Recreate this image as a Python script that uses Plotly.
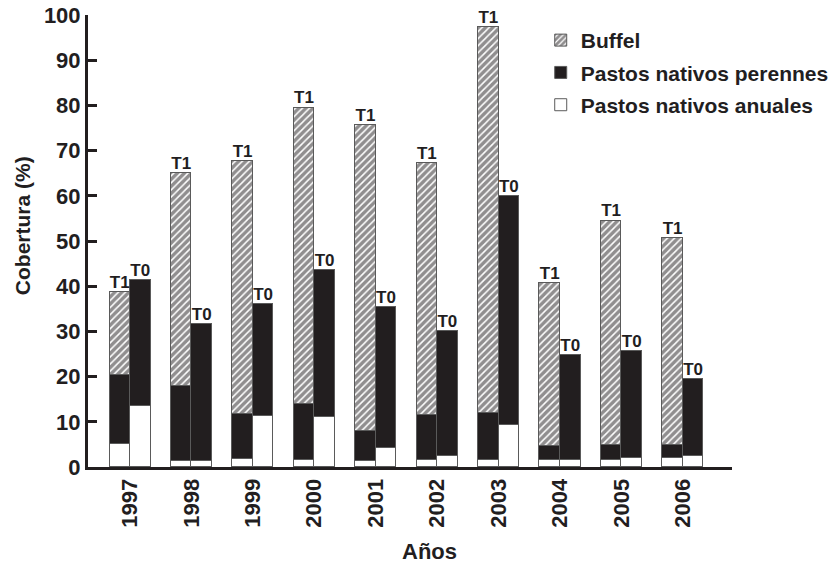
import plotly.graph_objects as go

years = ["1997", "1998", "1999", "2000", "2001", "2002", "2003", "2004", "2005", "2006"]

# T1 (with buffel)
t1_anuales = [5.2, 1.4, 1.7, 1.5, 1.3, 1.5, 1.6, 1.5, 1.5, 2.0]
t1_perennes = [15.1, 16.6, 10.1, 12.4, 6.6, 10.1, 10.4, 3.2, 3.3, 2.8]
t1_buffel = [18.4, 47.0, 55.9, 65.6, 67.7, 55.6, 85.4, 36.0, 49.7, 45.8]

# T0 (control)
t0_anuales = [13.5, 1.4, 11.3, 11.1, 4.1, 2.4, 9.2, 1.5, 2.1, 2.4]
t0_perennes = [27.9, 30.2, 24.7, 32.5, 31.2, 27.7, 50.7, 23.3, 23.6, 17.0]

idx = list(range(len(years)))
BW = 0.334
x_t1 = [i - BW / 2 for i in idx]
x_t0 = [i + BW / 2 for i in idx]

FONT = "Liberation Sans, Arial, Helvetica, sans-serif"
BLACK = "#221e1f"
EDGE = "#5a5a5a"

fig = go.Figure()

line = dict(color=EDGE, width=1)
hatch = dict(shape="/", fgcolor=BLACK, bgcolor="white", size=5, solidity=0.7)

fig.add_trace(go.Bar(x=x_t1, y=t1_anuales, width=BW, name="Pastos nativos anuales",
                     marker=dict(color="white", line=line), legendgroup="an", legendrank=3))
fig.add_trace(go.Bar(x=x_t1, y=t1_perennes, width=BW, name="Pastos nativos perennes",
                     marker=dict(color=BLACK, line=line), legendgroup="pe", legendrank=2))
fig.add_trace(go.Bar(x=x_t1, y=t1_buffel, width=BW, name="Buffel",
                     marker=dict(color="white", line=line, pattern=hatch),
                     legendgroup="bu", legendrank=1))
fig.add_trace(go.Bar(x=x_t0, y=t0_anuales, width=BW, name="Pastos nativos anuales",
                     marker=dict(color="white", line=line), legendgroup="an", showlegend=False))
fig.add_trace(go.Bar(x=x_t0, y=t0_perennes, width=BW, name="Pastos nativos perennes",
                     marker=dict(color=BLACK, line=line), legendgroup="pe", showlegend=False))

t1_tot = [a + b + c for a, b, c in zip(t1_anuales, t1_perennes, t1_buffel)]
t0_tot = [a + b for a, b in zip(t0_anuales, t0_perennes)]

lab_font = dict(family=FONT, size=17, color=BLACK, weight="bold")
fig.add_trace(go.Scatter(x=x_t1, y=t1_tot, mode="text", text=["T1"] * len(years),
                         textposition="top center", showlegend=False, cliponaxis=False,
                         textfont=lab_font))
fig.add_trace(go.Scatter(x=x_t0, y=t0_tot, mode="text", text=["T0"] * len(years),
                         textposition="top center", showlegend=False, cliponaxis=False,
                         textfont=lab_font))

fig.update_layout(
    width=840, height=565,
    margin=dict(l=88, r=108, t=15, b=98, autoexpand=False),
    barmode="stack",
    bargap=0,
    plot_bgcolor="white", paper_bgcolor="white",
    font=dict(family=FONT, color=BLACK, weight="bold"),
    showlegend=True,
    legend=dict(x=0.703, y=0.989, xanchor="left", yanchor="top",
                font=dict(family=FONT, size=21, color=BLACK, weight="bold"),
                traceorder="grouped", tracegroupgap=2, bgcolor="rgba(0,0,0,0)"),
    xaxis=dict(range=[-0.684, 9.8], tickmode="array", tickvals=idx, ticktext=years,
               tickangle=-90, showgrid=False, zeroline=False, showline=True,
               linecolor=BLACK, linewidth=3, ticks="", automargin=False,
               tickfont=dict(family=FONT, size=22, color=BLACK, weight="bold")),
    yaxis=dict(range=[0, 100], tickvals=list(range(0, 101, 10)), showgrid=False,
               zeroline=False, showline=True, linecolor=BLACK, linewidth=3,
               ticks="inside", ticklen=9, tickwidth=3, tickcolor=BLACK, automargin=False,
               tickfont=dict(family=FONT, size=22, color=BLACK, weight="bold")),
    annotations=[
        dict(text="Cobertura (%)", x=-0.1025, y=0.535, xref="paper", yref="paper",
             textangle=-90, showarrow=False, xanchor="center", yanchor="middle",
             font=dict(family=FONT, size=21, color=BLACK, weight="bold")),
        dict(text="Años", x=0.531, y=-0.188, xref="paper", yref="paper",
             showarrow=False, xanchor="center", yanchor="middle",
             font=dict(family=FONT, size=22, color=BLACK, weight="bold")),
    ],
)

fig.write_html("out.html", config={"displayModeBar": False},
               post_script="document.body.style.margin='0';")
